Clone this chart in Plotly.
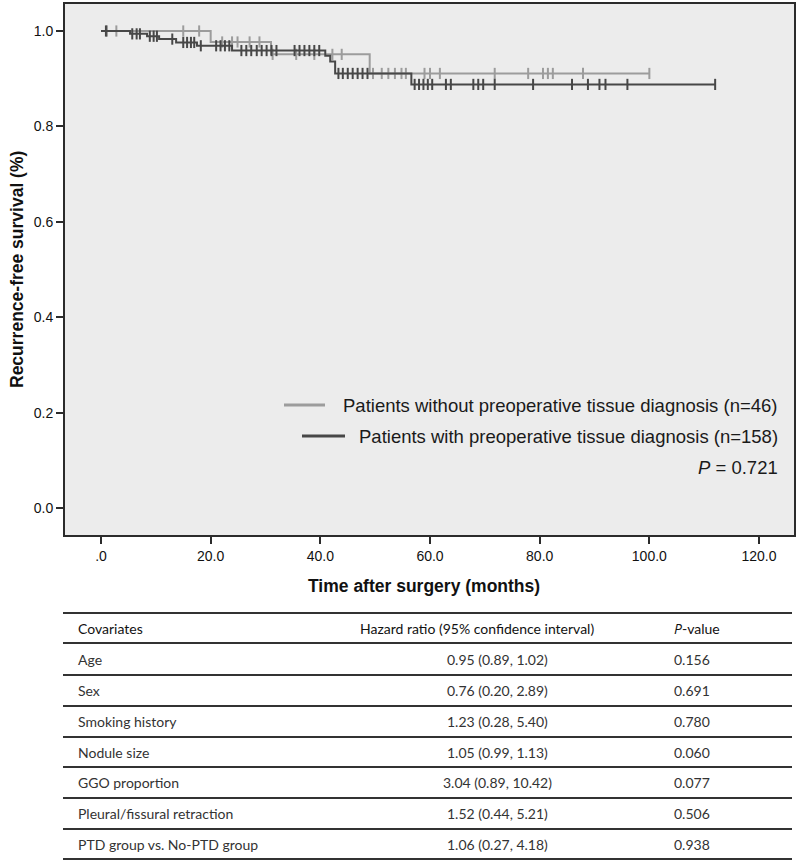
import plotly.graph_objects as go

# ---------------- data ----------------
# Group without preoperative tissue diagnosis (n=46) - grey curve
nopd_event_times = [20.0, 31.0, 49.0]
nopd_levels = [0.977, 0.951, 0.911]
nopd_censor = [1.1, 2.8, 15.0, 17.9, 22.1, 23.9, 24.9, 27.1, 28.9, 31.3, 35.6, 38.9,
               42.2, 43.9, 49.6, 51.2, 52.4, 53.6, 54.8, 55.6, 59.0, 60.0, 61.8, 71.8,
               77.9, 80.6, 81.5, 82.4, 87.9, 100.0]
nopd_end = 100.0

# Group with preoperative tissue diagnosis (n=158) - dark curve
ptd_event_times = [5.3, 8.4, 10.6, 13.7, 17.5, 23.9, 40.9, 41.8, 42.7, 56.6]
ptd_levels = [0.994, 0.989, 0.983, 0.976, 0.969, 0.959, 0.948, 0.936, 0.911, 0.888]
ptd_censor = [0.9, 5.7, 6.5, 7.1, 8.9, 9.6, 10.2, 13.0, 15.0, 15.7, 16.4, 17.0, 18.2,
              21.0, 21.8, 22.6, 23.4, 25.6, 26.5, 27.4, 28.4, 29.3, 30.2, 31.1, 32.0,
              35.3, 36.2, 37.1, 38.0, 38.9, 39.8, 43.3, 44.1, 45.0, 45.9, 46.8, 47.7,
              48.6, 57.2, 58.0, 58.8, 59.6, 60.4, 62.9, 63.8, 67.9, 68.8, 69.7, 71.8,
              78.8, 85.9, 88.8, 90.9, 92.0, 96.0, 112.0]
ptd_end = 112.0

legend_labels = ["Patients without preoperative tissue diagnosis (n=46)",
                 "Patients with preoperative tissue diagnosis (n=158)"]
p_value_text = "0.721"

x_tickvals = [0, 20, 40, 60, 80, 100, 120]
x_ticktext = [".0", "20.0", "40.0", "60.0", "80.0", "100.0", "120.0"]
y_tickvals = [0.0, 0.2, 0.4, 0.6, 0.8, 1.0]
y_ticktext = ["0.0", "0.2", "0.4", "0.6", "0.8", "1.0"]

table_header = ["Covariates", "Hazard ratio (95% confidence interval)",
                "<span style='font-family:Open Sans'><i>P</i></span>-value"]
covariates = ["Age", "Sex", "Smoking history", "Nodule size", "GGO proportion",
              "Pleural/fissural retraction", "PTD group vs. No-PTD group"]
hazard_ratios = ["0.95 (0.89, 1.02)", "0.76 (0.20, 2.89)", "1.23 (0.28, 5.40)",
                 "1.05 (0.99, 1.13)", "3.04 (0.89, 10.42)", "1.52 (0.44, 5.21)",
                 "1.06 (0.27, 4.18)"]
p_values = ["0.156", "0.691", "0.780", "0.060", "0.077", "0.506", "0.938"]

# ---------------- helpers ----------------
W, H = 800, 862


def px(x):
    return x / W


def py(y):
    return 1 - y / H


def step_path(times, levels, end):
    xs, ys = [0.0], [1.0]
    for t, lv in zip(times, levels):
        xs.append(t)
        ys.append(lv)
    xs.append(end)
    ys.append(ys[-1])
    return xs, ys


def level_at(t, times, levels):
    lv = 1.0
    for et, l in zip(times, levels):
        if et <= t:
            lv = l
    return lv


GREY = "#9c9c9c"
DARK = "#474747"
AX = "#2b2b2b"

fig = go.Figure()

for times, levels, end, cens, col in [
    (nopd_event_times, nopd_levels, nopd_end, nopd_censor, GREY),
    (ptd_event_times, ptd_levels, ptd_end, ptd_censor, DARK),
]:
    xs, ys = step_path(times, levels, end)
    fig.add_trace(go.Scatter(x=xs, y=ys, mode="lines", line=dict(color=col, width=2, shape="hv"),
                             showlegend=False, hoverinfo="skip"))
    fig.add_trace(go.Scatter(x=cens, y=[level_at(c, times, levels) for c in cens], mode="markers",
                             marker=dict(symbol="line-ns", size=8, line=dict(color=col, width=2)),
                             showlegend=False, hoverinfo="skip"))

font_ax = "Liberation Sans, Arial, sans-serif"
font_tab = "Lato, Open Sans, sans-serif"

fig.update_layout(
    width=W, height=H,
    margin=dict(l=0, r=0, t=0, b=0),
    paper_bgcolor="white",
    plot_bgcolor="#ececec",
    xaxis=dict(domain=[px(65), px(794)], range=[-6.565, 126.38],
               tickvals=x_tickvals, ticktext=x_ticktext,
               ticks="outside", ticklen=7, tickwidth=2, tickcolor=AX,
               showline=True, mirror=True, linecolor=AX, linewidth=2,
               showgrid=False, zeroline=False,
               tickfont=dict(family=font_ax, size=14, color="#111")),
    yaxis=dict(domain=[py(535), py(4)], range=[-0.0566, 1.0566],
               tickvals=y_tickvals, ticktext=y_ticktext,
               ticks="outside", ticklen=7, tickwidth=2, tickcolor=AX,
               showline=True, mirror=True, linecolor=AX, linewidth=2,
               showgrid=False, zeroline=False,
               tickfont=dict(family=font_ax, size=14, color="#111")),
)

ann = []
shapes = []
# axis titles
ann.append(dict(x=px(424), y=py(586), xref="paper", yref="paper", showarrow=False,
                text="<b>Time after surgery (months)</b>",
                font=dict(family=font_ax, size=17.5, color="#111"),
                xanchor="center", yanchor="middle"))
ann.append(dict(x=px(17), y=py(270), xref="paper", yref="paper", showarrow=False,
                text="<b>Recurrence-free survival (%)</b>", textangle=-90,
                font=dict(family=font_ax, size=17.5, color="#111"),
                xanchor="center", yanchor="middle"))
# legend
leg_rows = [(405, 284, 325, GREY), (436, 302, 345, DARK)]
for (yy, x0, x1, col), lab in zip(leg_rows, legend_labels):
    shapes.append(dict(type="line", xref="paper", yref="paper", x0=px(x0), x1=px(x1),
                       y0=py(yy), y1=py(yy), line=dict(color=col, width=3)))
    ann.append(dict(x=px(780), y=py(yy), xref="paper", yref="paper", showarrow=False,
                    text=lab, font=dict(family=font_ax, size=18.5, color="#1a1a1a"),
                    xanchor="right", yanchor="middle"))
ann.append(dict(x=px(780), y=py(467), xref="paper", yref="paper", showarrow=False,
                text="<i>P</i> = " + p_value_text, font=dict(family=font_ax, size=18.5, color="#1a1a1a"),
                xanchor="right", yanchor="middle"))

# table
line_ys = [613, 643, 675, 706, 737, 767, 798, 829, 859]
for ly in line_ys:
    shapes.append(dict(type="line", xref="paper", yref="paper", x0=px(63), x1=px(792),
                       y0=py(ly), y1=py(ly), line=dict(color="#333", width=2)))
hy = (line_ys[0] + line_ys[1]) / 2
ann.append(dict(x=px(76), y=py(hy), xref="paper", yref="paper", showarrow=False, text=table_header[0],
                font=dict(family=font_tab, size=14, color="#111"), xanchor="left", yanchor="middle"))
ann.append(dict(x=px(477), y=py(hy), xref="paper", yref="paper", showarrow=False, text=table_header[1],
                font=dict(family=font_tab, size=14, color="#111"), xanchor="center", yanchor="middle"))
ann.append(dict(x=px(672), y=py(hy), xref="paper", yref="paper", showarrow=False, text=table_header[2],
                font=dict(family=font_tab, size=14, color="#111"), xanchor="left", yanchor="middle"))
for i, (cv, hr, pv) in enumerate(zip(covariates, hazard_ratios, p_values)):
    ry = (line_ys[i + 1] + line_ys[i + 2]) / 2
    ann.append(dict(x=px(76), y=py(ry), xref="paper", yref="paper", showarrow=False, text=cv,
                    font=dict(family=font_tab, size=14, color="#333"), xanchor="left", yanchor="middle"))
    ann.append(dict(x=px(497), y=py(ry), xref="paper", yref="paper", showarrow=False, text=hr,
                    font=dict(family=font_tab, size=14, color="#333"), xanchor="center", yanchor="middle"))
    ann.append(dict(x=px(672), y=py(ry), xref="paper", yref="paper", showarrow=False, text=pv,
                    font=dict(family=font_tab, size=14, color="#333"), xanchor="left", yanchor="middle"))

fig.update_layout(annotations=ann, shapes=shapes)
fig.write_html("out.html",
               config={"displayModeBar": False},
               post_script="document.body.style.margin='0';document.body.style.padding='0';")
